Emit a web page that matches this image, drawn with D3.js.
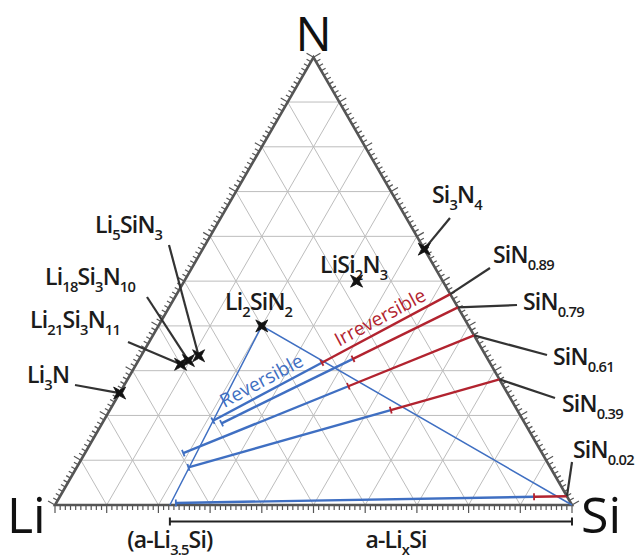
<!DOCTYPE html>
<html>
<head>
<meta charset="utf-8">
<script src="https://cdn.jsdelivr.net/npm/d3@7"></script>
<style>
  body { margin: 0; background: #fff; }
  svg { display: block; font-family: "Open Sans", sans-serif; }
</style>
</head>
<body>
<svg width="640" height="558"></svg>
<script>
// known phases, atoms per formula unit ({..} = subscript)
const compounds = ['Li{3}N', 'Li{21}Si{3}N{11}', 'Li{18}Si{3}N{10}', 'Li{5}SiN{3}', 'Li{2}SiN{2}', 'LiSi{2}N{3}', 'Si{3}N{4}']
const liAtoms = [3, 21, 18, 5, 2, 1, 0]
const siAtoms = [0, 3, 3, 1, 1, 2, 3]
const nAtoms = [1, 11, 10, 3, 2, 3, 4]

// SiNx films and their lithiation, written as Li(y)SiN(x)
const films = ['SiN{0.89}', 'SiN{0.79}', 'SiN{0.61}', 'SiN{0.39}', 'SiN{0.02}']
const nitrogenX = [0.89, 0.79, 0.61, 0.39, 0.02]
const liIrreversible = [0.91, 0.63, 0.69, 0.45, 0.07]
const liReversible = [2.84, 2.54, 3.65, 3.24, 3.3]

// corners of the reversible region: Li2SiN2, a-Li3.5Si, Si
const regionLi = [2, 3.5, 0]
const regionSi = [1, 1, 1]
const regionN = [2, 0, 0]

const gridSteps = d3.range(1, 10).map(d => d / 10)
const tickSteps = d3.range(0, 101)

// label placement: left x, baseline y, leader start (layout only)
const labelLayout = {
  'Li{3}N': [27, 383, 75, 385],
  'Li{21}Si{3}N{11}': [30, 328, 128, 342],
  'Li{18}Si{3}N{10}': [45, 285, 147, 297],
  'Li{5}SiN{3}': [95, 233, 169, 245],
  'Li{2}SiN{2}': [225, 310],
  'LiSi{2}N{3}': [320, 273],
  'Si{3}N{4}': [432, 203, 450, 218],
  'SiN{0.89}': [493, 263, 490, 268],
  'SiN{0.79}': [523, 310, 517, 305],
  'SiN{0.61}': [553, 365, 547, 355],
  'SiN{0.39}': [562, 412, 555, 398],
  'SiN{0.02}': [573, 458, 572, 462]
}

const svg = d3.select('svg')
const H = Math.sqrt(3) / 2
const x = d3.scaleLinear().domain([0, 1]).range([55, 572])
const y = d3.scaleLinear().domain([0, H]).range([505, 505 - 517 * H])

const blue = '#3f6fc2'
const red = '#b2232f'
const edgeColor = '#555'
const labelSize = 23

function pt(li, si, n) {
  const s = li + si + n
  const a = si / s, c = n / s
  return [x(a + c / 2), y(c * H)]
}

const line = d3.line()

// grid
const grid = svg.append('g').attr('stroke', '#bdbdbd').attr('stroke-width', 1).attr('fill', 'none')
gridSteps.forEach(k => {
  grid.append('path').attr('d', line([pt(1 - k, 0, k), pt(0, 1 - k, k)]))
  grid.append('path').attr('d', line([pt(k, 1 - k, 0), pt(k, 0, 1 - k)]))
  grid.append('path').attr('d', line([pt(1 - k, k, 0), pt(0, k, 1 - k)]))
})

// ticks on the three edges
const edges = [
  { from: [1, 0, 0], to: [0, 1, 0], normal: [0, 1] },
  { from: [1, 0, 0], to: [0, 0, 1], normal: [-H, -0.5] },
  { from: [0, 1, 0], to: [0, 0, 1], normal: [H, -0.5] }
]
const ticks = svg.append('g').attr('stroke', edgeColor).attr('stroke-width', 1.2)
edges.forEach(e => {
  tickSteps.forEach(i => {
    const t = i / 100
    const p = pt(...e.from.map((v, j) => v * (1 - t) + e.to[j] * t))
    const len = i % 10 === 0 ? 8 : 5
    ticks.append('line')
      .attr('x1', p[0]).attr('y1', p[1])
      .attr('x2', p[0] + e.normal[0] * len).attr('y2', p[1] + e.normal[1] * len)
  })
})

svg.append('path')
  .attr('d', line([pt(1, 0, 0), pt(0, 1, 0), pt(0, 0, 1)]) + 'Z')
  .attr('fill', 'none').attr('stroke', edgeColor).attr('stroke-width', 2.6)
  .attr('stroke-linejoin', 'miter')

// reversible region boundary
const region = d3.range(regionLi.length).map(i => pt(regionLi[i], regionSi[i], regionN[i]))
svg.append('path').attr('d', line([region[1], region[0], region[2]]))
  .attr('fill', 'none').attr('stroke', blue).attr('stroke-width', 1.5)

// lithiation paths of the films
function cap(g, p, dir, color) {
  const nx = -dir[1], ny = dir[0]
  g.append('line')
    .attr('x1', p[0] - nx * 3.5).attr('y1', p[1] - ny * 3.5)
    .attr('x2', p[0] + nx * 3.5).attr('y2', p[1] + ny * 3.5)
    .attr('stroke', color).attr('stroke-width', 1.8)
}
const paths = svg.append('g').attr('fill', 'none')
const pathPoints = nitrogenX.map((nx, i) => {
  const s = pt(0, 1, nx)
  const j = pt(liIrreversible[i], 1, nx)
  const e = pt(liReversible[i], 1, nx)
  const d = Math.hypot(e[0] - s[0], e[1] - s[1])
  const dir = [(e[0] - s[0]) / d, (e[1] - s[1]) / d]
  paths.append('path').attr('d', line([j, e])).attr('stroke', blue).attr('stroke-width', 2.4)
  paths.append('path').attr('d', line([s, j])).attr('stroke', red).attr('stroke-width', 2.4)
  cap(paths, e, dir, blue)
  cap(paths, j, dir, red)
  return { s, j, e, dir }
})

// path captions
function along(text, a, b, off, color) {
  const ang = Math.atan2(b[1] - a[1], b[0] - a[0])
  const m = [(a[0] + b[0]) / 2, (a[1] + b[1]) / 2]
  const px = m[0] + Math.sin(ang) * off, py = m[1] - Math.cos(ang) * off
  svg.append('text')
    .attr('transform', `translate(${px},${py}) rotate(${ang * 180 / Math.PI})`)
    .attr('text-anchor', 'middle')
    .attr('font-size', 19)
    .attr('fill', color)
    .text(text)
}
const first = pathPoints[0]
along('Irreversible', first.j, first.s, 6, red)
along('Reversible', first.e, first.j, 6, blue)

// formula text with subscripts
function formula(sel, str, size) {
  const parts = str.split(/(\{[^}]*\})/).filter(s => s)
  let down = false
  parts.forEach(p => {
    const sub = p[0] === '{'
    const t = sel.append('tspan').text(sub ? p.slice(1, -1) : p)
    if (sub) {
      t.attr('font-size', size * 0.64)
      if (!down) t.attr('dy', size * 0.3)
      down = true
    } else if (down) {
      t.attr('dy', -size * 0.3)
      down = false
    }
  })
}

const labels = svg.append('g').attr('fill', '#1b1b1b').attr('font-weight', 600)
  .attr('font-size', labelSize).attr('letter-spacing', -0.8)
function label(name, target) {
  const L = labelLayout[name]
  const t = labels.append('text').attr('x', L[0]).attr('y', L[1])
  formula(t, name, labelSize)
  if (L.length > 2) {
    svg.append('line')
      .attr('x1', L[2]).attr('y1', L[3]).attr('x2', target[0]).attr('y2', target[1])
      .attr('stroke', '#333').attr('stroke-width', 2.2)
  }
}

// phase markers (four-point stars)
const star = d3.range(8).map(k => {
  const r = k % 2 === 0 ? 8.5 : 2.8
  const a = Math.PI / 4 + k * Math.PI / 4
  return [Math.cos(a) * r, Math.sin(a) * r]
})
compounds.forEach((c, i) => {
  const p = pt(liAtoms[i], siAtoms[i], nAtoms[i])
  label(c, p)
  svg.append('path').attr('d', line(star) + 'Z')
    .attr('transform', `translate(${p[0]},${p[1]})`)
    .attr('fill', '#111').attr('stroke', '#111').attr('stroke-width', 0.8)
})
films.forEach((f, i) => label(f, pathPoints[i].s))

// composition range of a-LixSi
const bx0 = region[1][0], bx1 = x(1), by = 521.5
const bracket = svg.append('g').attr('stroke', '#222').attr('stroke-width', 2)
bracket.append('line').attr('x1', bx0).attr('x2', bx1).attr('y1', by).attr('y2', by)
bracket.append('line').attr('x1', bx0).attr('x2', bx0).attr('y1', by - 4).attr('y2', by + 4)
bracket.append('line').attr('x1', bx1).attr('x2', bx1).attr('y1', by - 4).attr('y2', by + 4)

const bottom = svg.append('g').attr('fill', '#1b1b1b').attr('font-weight', 600)
  .attr('font-size', labelSize).attr('letter-spacing', -0.8)
formula(bottom.append('text').attr('x', bx0).attr('y', 548).attr('text-anchor', 'middle'), '(a-Li{3.5}Si)', labelSize)
formula(bottom.append('text').attr('x', 396).attr('y', 548).attr('text-anchor', 'middle'), 'a-Li{x}Si', labelSize)

// corner element labels
const corners = svg.append('g').attr('font-size', 50).attr('fill', '#111')
corners.append('text').attr('x', x(0.5)).attr('y', 51).attr('font-size', 48).attr('text-anchor', 'middle').text('N')
corners.append('text').attr('x', 7).attr('y', 533).text('Li')
corners.append('text').attr('x', 581).attr('y', 533).text('Si')
</script>
</body>
</html>
